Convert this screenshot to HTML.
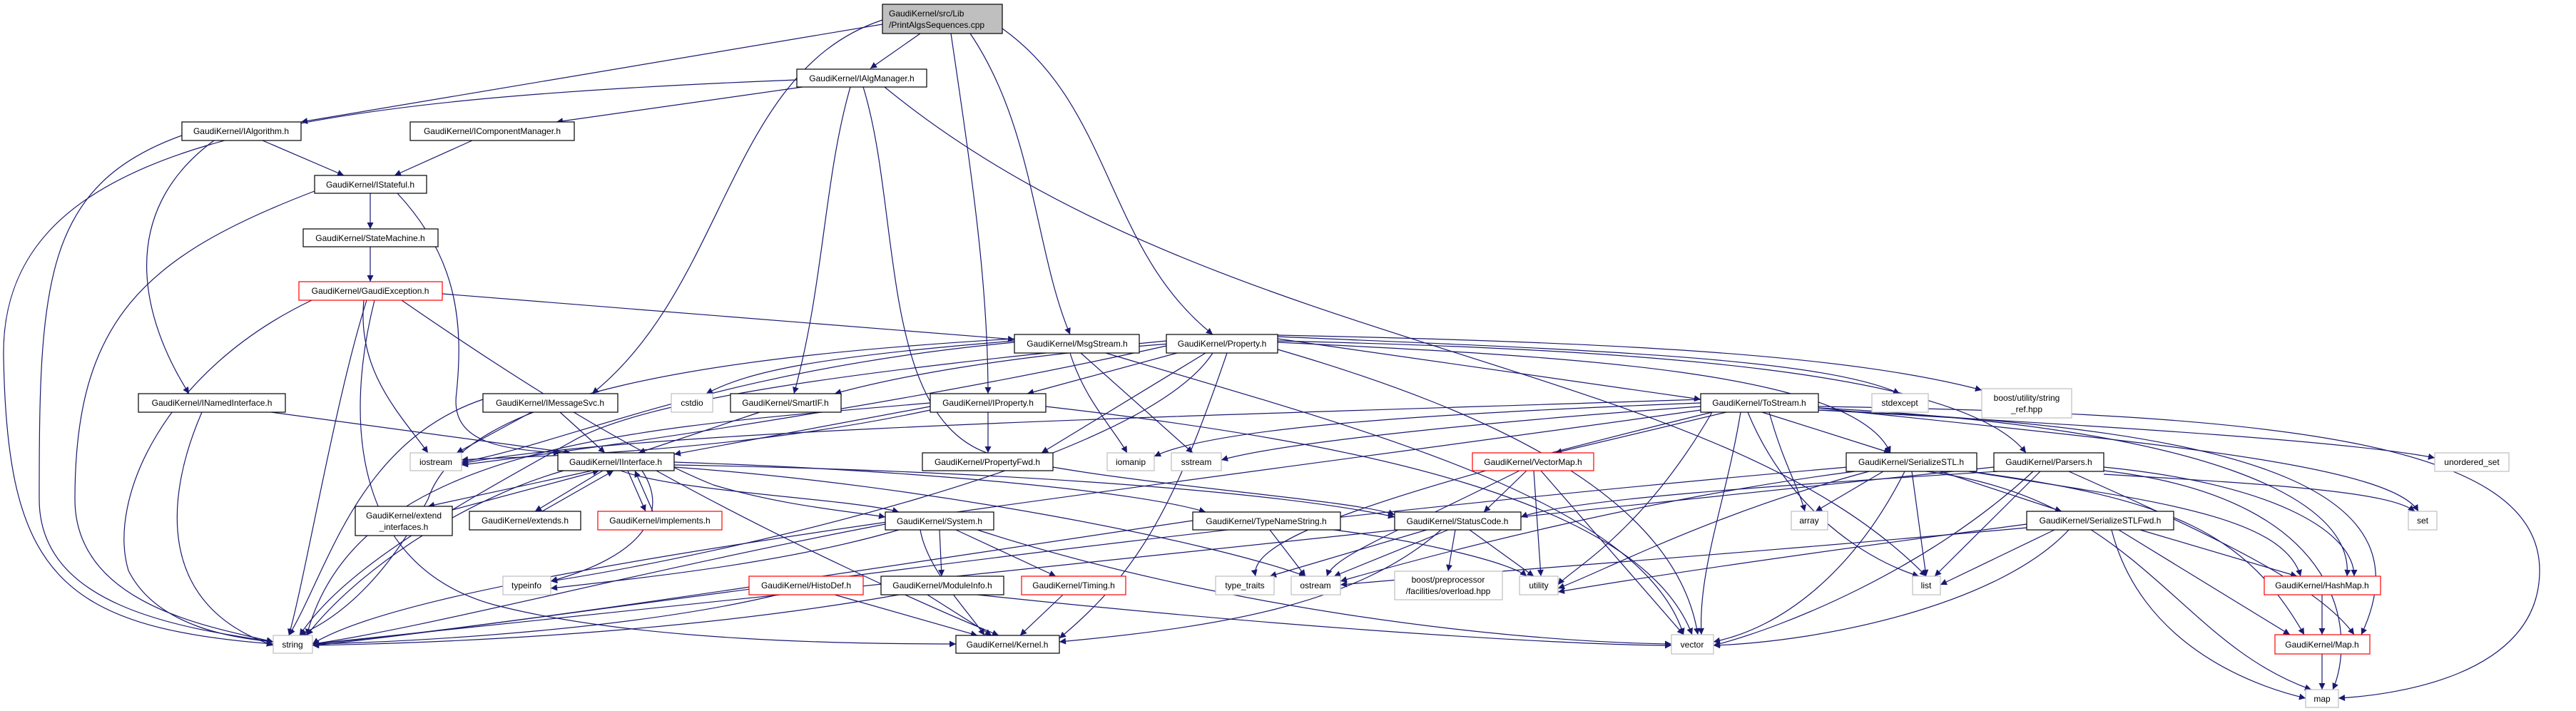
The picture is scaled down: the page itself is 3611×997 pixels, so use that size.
<!DOCTYPE html>
<html><head><meta charset="utf-8"><style>
html,body{margin:0;padding:0;background:#fff;}
svg{display:block;}
text{font-family:"Liberation Sans",sans-serif;font-size:12px;fill:#000;}
.e{fill:none;stroke:#191970;stroke-width:1.2;marker-end:url(#a);}
.n{fill:#fff;stroke:#000;stroke-width:1.2;}
.r{fill:#fff;stroke:#ff0000;stroke-width:1.2;}
.g{fill:#fff;stroke:#bfbfbf;stroke-width:1.2;}
</style></head><body>
<svg width="3611" height="997" viewBox="0 0 3611 997" xmlns="http://www.w3.org/2000/svg">
<defs><marker id="a" viewBox="0 0 10 10" refX="10" refY="5" markerWidth="10" markerHeight="9" markerUnits="userSpaceOnUse" orient="auto"><path d="M0,0 L10,5 L0,10 z" fill="#191970"/></marker></defs>
<g>
<path class="e" d="M1290,47 L1220,96"/>
<path class="e" d="M1237,34 L422,171"/>
<path class="e" d="M1237,28 C1020,100 1020,400 830,552"/>
<path class="e" d="M1333,47 C1363,250 1385,400 1385,552"/>
<path class="e" d="M1360,47 C1450,180 1450,350 1500,469"/>
<path class="e" d="M1405,40 C1560,150 1550,350 1700,469"/>
<path class="e" d="M1117,112 C400,140 0,200 5,500 S80,880 383,903"/>
<path class="e" d="M1125,122 L780,171"/>
<path class="e" d="M1192,122 C1155,250 1155,400 1113,552"/>
<path class="e" d="M1210,122 C1265,300 1230,600 1400,640 S1900,700 1955,722"/>
<path class="e" d="M1240,122 C1700,500 2400,500 2700,808"/>
<path class="e" d="M255,190 C60,260 55,400 55,700 C55,850 250,880 383,900"/>
<path class="e" d="M300,197 C160,300 200,450 265,552"/>
<path class="e" d="M368,197 L482,246"/>
<path class="e" d="M662,197 L553,246"/>
<path class="e" d="M441,268 C200,360 105,450 105,700 C105,850 300,880 383,900"/>
<path class="e" d="M557,271 C640,360 650,450 640,550 C630,620 700,630 785,635"/>
<path class="e" d="M519,271 L519,321"/>
<path class="e" d="M519,346 L519,395"/>
<path class="e" d="M437,421 C230,520 150,700 180,800 C220,880 330,895 383,900"/>
<path class="e" d="M510,421 C500,520 560,580 600,635"/>
<path class="e" d="M514,421 C470,560 430,800 405,891"/>
<path class="e" d="M525,421 C480,600 500,800 700,850 C900,900 1200,903 1340,903"/>
<path class="e" d="M563,421 C750,550 900,640 1000,680 C1100,710 1200,718 1241,725"/>
<path class="e" d="M620,412 L1422,476"/>
<path class="e" d="M283,578 C230,700 220,850 383,905"/>
<path class="e" d="M380,578 L800,635"/>
<path class="e" d="M677,560 C500,620 460,800 405,891"/>
<path class="e" d="M745,578 L640,635"/>
<path class="e" d="M785,578 L848,635"/>
<path class="e" d="M1065,578 L895,635"/>
<path class="e" d="M1304,570 L945,637"/>
<path class="e" d="M1385,578 L1385,635"/>
<path class="e" d="M1304,565 C900,600 500,620 430,891"/>
<path class="e" d="M1304,575 C1000,640 700,640 647,645"/>
<path class="e" d="M1466,570 C1900,620 2300,700 2372,890"/>
<path class="e" d="M1422,475 C1000,500 650,550 600,700 C520,850 440,880 420,891"/>
<path class="e" d="M1422,480 C1000,520 800,620 647,648"/>
<path class="e" d="M1422,478 C1150,500 1050,520 990,552"/>
<path class="e" d="M1500,495 C1520,560 1560,600 1580,635"/>
<path class="e" d="M1515,495 L1672,635"/>
<path class="e" d="M1550,495 C1900,600 2300,700 2360,890"/>
<path class="e" d="M1650,495 L1440,552"/>
<path class="e" d="M1690,495 L1460,635"/>
<path class="e" d="M1791,475 L2384,560"/>
<path class="e" d="M1791,472 C2200,490 2550,500 2663,552"/>
<path class="e" d="M1791,470 C2300,480 2600,500 2778,547"/>
<path class="e" d="M1791,480 C2200,500 2600,520 2650,635"/>
<path class="e" d="M1791,478 C2300,490 2750,520 2840,635"/>
<path class="e" d="M1635,478 C1200,520 900,560 800,620 C620,720 480,800 420,891"/>
<path class="e" d="M1635,485 C1300,560 900,620 647,652"/>
<path class="e" d="M1640,482 C1400,500 1250,530 1170,552"/>
<path class="e" d="M1700,495 C1600,650 1000,780 772,815"/>
<path class="e" d="M1720,495 C1650,700 1600,800 1485,895"/>
<path class="e" d="M1791,490 C2100,580 2350,700 2380,890"/>
<path class="e" d="M2384,560 C1800,580 900,600 647,650"/>
<path class="e" d="M2384,565 C2000,580 1700,600 1618,640"/>
<path class="e" d="M2384,570 C2100,590 1800,620 1712,645"/>
<path class="e" d="M2384,575 C1500,700 600,800 438,903"/>
<path class="e" d="M2400,578 C1900,700 1750,760 1760,808"/>
<path class="e" d="M2420,578 L2180,635"/>
<path class="e" d="M2440,578 C2420,700 2380,800 2385,890"/>
<path class="e" d="M2450,578 C2500,700 2600,780 2690,808"/>
<path class="e" d="M2470,578 L2650,635"/>
<path class="e" d="M2480,578 C2500,650 2520,680 2530,717"/>
<path class="e" d="M2549,575 C3000,600 3300,620 3413,642"/>
<path class="e" d="M2549,572 C3000,620 3350,650 3390,717"/>
<path class="e" d="M2549,570 C3200,580 3560,620 3560,800 C3560,950 3350,975 3278,979"/>
<path class="e" d="M2549,572 C3100,600 3300,700 3290,808"/>
<path class="e" d="M2549,575 C3200,600 3400,700 3310,890"/>
<path class="e" d="M2400,578 C2300,750 2200,800 2184,820"/>
<path class="e" d="M870,660 C950,690 1200,700 1260,718"/>
<path class="e" d="M945,652 C1400,660 1800,690 1955,725"/>
<path class="e" d="M945,648 C1300,660 1600,690 1690,718"/>
<path class="e" d="M830,660 L600,710"/>
<path class="e" d="M634,715 L840,660"/>
<path class="e" d="M845,660 L750,717"/>
<path class="e" d="M760,717 L860,660"/>
<path class="e" d="M880,660 L905,717"/>
<path class="e" d="M915,717 L890,660"/>
<path class="e" d="M900,660 C940,720 900,780 772,815"/>
<path class="e" d="M945,655 C1300,680 1700,760 1830,808"/>
<path class="e" d="M920,660 C1100,760 1300,850 1400,891"/>
<path class="e" d="M790,660 C650,700 500,800 430,891"/>
<path class="e" d="M1241,735 C900,800 600,880 438,903"/>
<path class="e" d="M1260,743 C1100,790 900,810 772,825"/>
<path class="e" d="M1317,743 L1320,808"/>
<path class="e" d="M1340,743 L1480,808"/>
<path class="e" d="M1370,743 C1700,850 2100,900 2343,903"/>
<path class="e" d="M1290,743 C1300,800 1360,860 1380,891"/>
<path class="e" d="M1090,834 C900,880 600,900 438,903"/>
<path class="e" d="M1170,834 L1370,891"/>
<path class="e" d="M1300,834 L1390,891"/>
<path class="e" d="M1260,834 C1000,880 700,900 438,905"/>
<path class="e" d="M1370,834 C1800,880 2200,905 2343,905"/>
<path class="e" d="M1490,834 L1430,891"/>
<path class="e" d="M1672,730 C1200,800 700,880 438,903"/>
<path class="e" d="M1780,743 L1830,808"/>
<path class="e" d="M1870,743 C2000,760 2120,790 2140,808"/>
<path class="e" d="M2000,743 L1780,808"/>
<path class="e" d="M2030,743 L1870,808"/>
<path class="e" d="M2040,743 L2030,801"/>
<path class="e" d="M2060,743 L2150,808"/>
<path class="e" d="M2020,743 C1900,850 1700,880 1485,900"/>
<path class="e" d="M2140,660 L2080,718"/>
<path class="e" d="M2130,660 C1950,750 1870,780 1860,808"/>
<path class="e" d="M2150,660 L2160,808"/>
<path class="e" d="M2160,660 L2360,890"/>
<path class="e" d="M2640,661 L2545,717"/>
<path class="e" d="M2680,661 L2700,808"/>
<path class="e" d="M2720,661 L2890,717"/>
<path class="e" d="M2670,661 C2600,800 2500,880 2402,900"/>
<path class="e" d="M2700,661 C3000,700 3050,900 3240,967"/>
<path class="e" d="M2760,661 C3000,700 3200,720 3225,808"/>
<path class="e" d="M2760,661 C3050,700 3150,750 3230,890"/>
<path class="e" d="M2600,661 C2300,700 2000,780 1879,815"/>
<path class="e" d="M2620,661 C2400,720 2250,800 2184,825"/>
<path class="e" d="M2590,655 C1500,750 700,880 438,905"/>
<path class="e" d="M2860,661 L2712,808"/>
<path class="e" d="M2949,665 C3200,680 3350,690 3385,717"/>
<path class="e" d="M2949,660 C3300,700 3300,900 3270,967"/>
<path class="e" d="M2949,655 C3200,680 3300,750 3300,808"/>
<path class="e" d="M2900,661 C3100,750 3250,820 3300,890"/>
<path class="e" d="M2850,661 C2700,800 2500,880 2402,905"/>
<path class="e" d="M2800,661 C2500,680 2200,700 2132,725"/>
<path class="e" d="M2795,655 C1600,780 700,880 438,903"/>
<path class="e" d="M2880,743 L2720,820"/>
<path class="e" d="M2900,743 C2800,850 2550,900 2402,905"/>
<path class="e" d="M2960,743 C3000,900 3150,960 3232,979"/>
<path class="e" d="M3000,743 L3220,808"/>
<path class="e" d="M2970,743 L3210,890"/>
<path class="e" d="M2841,735 C2500,780 2300,810 2184,830"/>
<path class="e" d="M2841,740 C2400,780 2100,800 1879,820"/>
<path class="e" d="M3255,834 L3255,890"/>
<path class="e" d="M3255,917 L3255,967"/>
</g>
<g text-anchor="middle">
<rect x="1237" y="6" width="168" height="41" fill="#bfbfbf" stroke="#000" stroke-width="1.2"/>
<text x="1246" y="23" text-anchor="start">GaudiKernel/src/Lib</text><text x="1246" y="39" text-anchor="start">/PrintAlgsSequences.cpp</text>
<rect class="n" x="1117" y="97" width="182" height="25"/><text x="1208" y="114">GaudiKernel/IAlgManager.h</text>
<rect class="n" x="255" y="171" width="167" height="26"/><text x="338" y="188">GaudiKernel/IAlgorithm.h</text>
<rect class="n" x="575" y="171" width="230" height="26"/><text x="690" y="188">GaudiKernel/IComponentManager.h</text>
<rect class="n" x="441" y="246" width="157" height="25"/><text x="519" y="263">GaudiKernel/IStateful.h</text>
<rect class="n" x="425" y="321" width="189" height="25"/><text x="519" y="338">GaudiKernel/StateMachine.h</text>
<rect class="r" x="419" y="395" width="201" height="26"/><text x="519" y="412">GaudiKernel/GaudiException.h</text>
<rect class="n" x="1422" y="469" width="175" height="26"/><text x="1510" y="486">GaudiKernel/MsgStream.h</text>
<rect class="n" x="1635" y="469" width="156" height="26"/><text x="1713" y="486">GaudiKernel/Property.h</text>
<rect class="n" x="194" y="552" width="206" height="26"/><text x="297" y="569">GaudiKernel/INamedInterface.h</text>
<rect class="n" x="677" y="552" width="189" height="26"/><text x="771" y="569">GaudiKernel/IMessageSvc.h</text>
<rect class="g" x="941" y="552" width="58" height="26"/><text x="970" y="569">cstdio</text>
<rect class="n" x="1024" y="552" width="155" height="26"/><text x="1101" y="569">GaudiKernel/SmartIF.h</text>
<rect class="n" x="1304" y="552" width="162" height="26"/><text x="1385" y="569">GaudiKernel/IProperty.h</text>
<rect class="n" x="2384" y="552" width="165" height="26"/><text x="2466" y="569">GaudiKernel/ToStream.h</text>
<rect class="g" x="2624" y="552" width="79" height="26"/><text x="2663" y="569">stdexcept</text>
<rect class="g" x="2778" y="545" width="126" height="41"/><text x="2841" y="562">boost/utility/string</text><text x="2841" y="578">_ref.hpp</text>
<rect class="g" x="575" y="635" width="72" height="25"/><text x="611" y="652">iostream</text>
<rect class="n" x="782" y="635" width="163" height="25"/><text x="863" y="652">GaudiKernel/IInterface.h</text>
<rect class="n" x="1293" y="635" width="183" height="25"/><text x="1384" y="652">GaudiKernel/PropertyFwd.h</text>
<rect class="g" x="1552" y="635" width="66" height="25"/><text x="1585" y="652">iomanip</text>
<rect class="g" x="1642" y="635" width="70" height="25"/><text x="1677" y="652">sstream</text>
<rect class="r" x="2064" y="635" width="170" height="25"/><text x="2149" y="652">GaudiKernel/VectorMap.h</text>
<rect class="n" x="2588" y="635" width="183" height="26"/><text x="2679" y="652">GaudiKernel/SerializeSTL.h</text>
<rect class="n" x="2795" y="635" width="154" height="26"/><text x="2872" y="652">GaudiKernel/Parsers.h</text>
<rect class="g" x="3413" y="635" width="104" height="26"/><text x="3465" y="652">unordered_set</text>
<rect class="n" x="498" y="710" width="136" height="41"/><text x="566" y="727">GaudiKernel/extend</text><text x="566" y="743">_interfaces.h</text>
<rect class="n" x="658" y="717" width="156" height="26"/><text x="736" y="734">GaudiKernel/extends.h</text>
<rect class="r" x="838" y="717" width="174" height="26"/><text x="925" y="734">GaudiKernel/implements.h</text>
<rect class="n" x="1241" y="718" width="152" height="25"/><text x="1317" y="735">GaudiKernel/System.h</text>
<rect class="n" x="1672" y="718" width="207" height="25"/><text x="1775" y="735">GaudiKernel/TypeNameString.h</text>
<rect class="n" x="1955" y="718" width="177" height="25"/><text x="2043" y="735">GaudiKernel/StatusCode.h</text>
<rect class="g" x="2511" y="717" width="51" height="26"/><text x="2536" y="734">array</text>
<rect class="n" x="2841" y="717" width="206" height="26"/><text x="2944" y="734">GaudiKernel/SerializeSTLFwd.h</text>
<rect class="g" x="3376" y="717" width="40" height="26"/><text x="3396" y="734">set</text>
<rect class="g" x="705" y="808" width="67" height="26"/><text x="738" y="825">typeinfo</text>
<rect class="r" x="1050" y="808" width="160" height="26"/><text x="1130" y="825">GaudiKernel/HistoDef.h</text>
<rect class="n" x="1235" y="808" width="172" height="26"/><text x="1321" y="825">GaudiKernel/ModuleInfo.h</text>
<rect class="r" x="1432" y="808" width="146" height="26"/><text x="1505" y="825">GaudiKernel/Timing.h</text>
<rect class="g" x="1704" y="808" width="82" height="26"/><text x="1745" y="825">type_traits</text>
<rect class="g" x="1810" y="808" width="69" height="26"/><text x="1844" y="825">ostream</text>
<rect class="g" x="1955" y="801" width="151" height="40"/><text x="2030" y="817">boost/preprocessor</text><text x="2030" y="833">/facilities/overload.hpp</text>
<rect class="g" x="2130" y="808" width="54" height="26"/><text x="2157" y="825">utility</text>
<rect class="g" x="2681" y="808" width="39" height="26"/><text x="2700" y="825">list</text>
<rect class="r" x="3174" y="808" width="163" height="26"/><text x="3255" y="825">GaudiKernel/HashMap.h</text>
<rect class="g" x="383" y="891" width="55" height="25"/><text x="410" y="908">string</text>
<rect class="n" x="1340" y="891" width="145" height="25"/><text x="1412" y="908">GaudiKernel/Kernel.h</text>
<rect class="g" x="2343" y="890" width="59" height="27"/><text x="2372" y="908">vector</text>
<rect class="r" x="3189" y="890" width="133" height="27"/><text x="3255" y="908">GaudiKernel/Map.h</text>
<rect class="g" x="3232" y="967" width="46" height="25"/><text x="3255" y="984">map</text>
</g>
</svg>
</body></html>
